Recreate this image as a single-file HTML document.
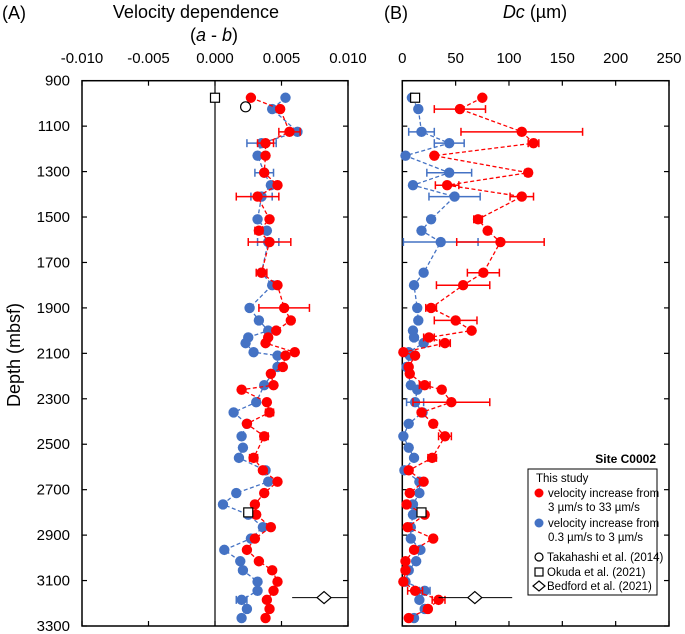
<!DOCTYPE html>
<html><head><meta charset="utf-8"><style>
html,body{margin:0;padding:0;background:#fff;}
svg{display:block;font-family:"Liberation Sans",Arial,sans-serif;}
</style></head><body>
<svg id="chart" width="685" height="634" viewBox="0 0 685 634" xmlns="http://www.w3.org/2000/svg">
<g id="root"></g>
<text x="2" y="19" font-size="18">(A)</text>
<text x="196" y="18" font-size="18" text-anchor="middle">Velocity dependence</text>
<text x="214" y="41" font-size="18" text-anchor="middle">(<tspan font-style="italic">a</tspan> - <tspan font-style="italic">b</tspan>)</text>
<text x="384" y="19" font-size="18">(B)</text>
<text x="535" y="18" font-size="18" text-anchor="middle"><tspan font-style="italic">Dc</tspan> (µm)</text>
<text transform="translate(20,355) rotate(-90)" font-size="18" text-anchor="middle">Depth (mbsf)</text>
<g>
<text x="656" y="463" font-size="12" font-weight="bold" text-anchor="end">Site C0002</text>
<rect x="528" y="469" width="129" height="126" fill="#fff" stroke="#000" stroke-width="1"/>
<text x="536" y="482" font-size="11.5">This study</text>
<circle cx="539" cy="493" r="4.5" fill="#ff0000"/>
<text x="548" y="497" font-size="11.5">velocity increase from</text>
<text x="548" y="511" font-size="11.5">3 µm/s to 33 µm/s</text>
<circle cx="539" cy="523" r="4.5" fill="#4472c4"/>
<text x="548" y="527" font-size="11.5">velocity increase from</text>
<text x="548" y="541" font-size="11.5">0.3 µm/s to 3 µm/s</text>
<circle cx="539" cy="557" r="4" fill="#fff" stroke="#000" stroke-width="1.2"/>
<text x="547" y="561" font-size="11.5">Takahashi et al. (2014)</text>
<rect x="535" y="568" width="8" height="8" fill="#fff" stroke="#000" stroke-width="1.2"/>
<text x="547" y="576" font-size="11.5">Okuda et al. (2021)</text>
<polygon points="539,581 545,586 539,591 533,586" fill="#fff" stroke="#000" stroke-width="1.2"/>
<text x="547" y="590" font-size="11.5">Bedford et al. (2021)</text>
</g>
</svg>
<script>
const depths=[975,1025,1125,1175,1230,1305,1360,1410,1510,1560,1610,1745,1800,1900,1955,2000,2030,2055,2095,2110,2160,2190,2240,2260,2315,2360,2410,2465,2515,2560,2615,2665,2715,2765,2810,2865,2915,2965,3015,3055,3105,3145,3185,3225,3265];
const abRed=[.0027,.0049,.0056,.0038,.0038,.0037,.0047,.0032,.0041,.0033,.0041,.0035,.0047,.0052,.0057,.0046,.0040,.0038,.0060,.0053,.0051,.0042,.0044,.0020,.0039,.0041,.0024,.0037,null,.0029,.0036,.0047,.0037,.0030,.0031,.0042,.0030,.0024,.0033,.0043,.0047,.0044,.0039,.0041,.0038];
const abBlue=[.0053,.0043,.0062,.0035,.0032,.0037,.0042,.0035,.0032,.0039,.0040,.0035,.0043,.0026,.0033,.0040,.0025,.0023,.0029,.0047,.0047,null,.0037,null,.0031,.0014,.0024,.0020,.0021,.0018,.0038,.0040,.0016,.0006,.0025,.0036,.0027,.0007,.0019,.0021,.0032,.0032,.0020,.0024,.0020];
const abRedErrDepth=[1125,1175,1410,1560,1610,1745,1900,2360,2465,2560];
const abRedErr=[.0008,.0006,.0016,.0003,.0016,.0004,.0019,.0003,.0003,.0003];
const abBlueErrDepth=[1175,1305,1410,1610,3185];
const abBlueErr=[.0011,.0007,.0008,.0008,.0004];
const dcRed=[75,54,112,123,30,118,42,112,71,80,92,76,57,27,50,65,25,40,1,12,6,7,21,37,46,18,29,40,null,28,6,20,7,4,21,5,29,11,3,3,1,12,34,24,6];
const dcBlue=[9,15,18,44,3,44,10,49,27,18,36,20,11,14,15,10,11,20,6,7,4,null,8,14,12,19,6,1,6,11,2,16,16,10,10,8,8,17,13,6,3,21,16,21,11];
const dcRedErrDepth=[1025,1125,1175,1305,1360,1410,1510,1610,1745,1800,1900,1955,2030,2055,2240,2315,2465,2560,3145,3185];
const dcRedErr=[24,57,5,3,11,11,4,41,15,25,5,20,5,5,5,36,6,4,7,6];
const dcBlueErrDepth=[1125,1175,1305,1410,1610,2315,3145];
const dcBlueErr=[12,14,21,24,35,8,5];
const depthTicks=[900,1100,1300,1500,1700,1900,2100,2300,2500,2700,2900,3100,3300];
const abTicks=[-0.010,-0.005,0.000,0.005,0.010];
const abTickLabels=["-0.010","-0.005","0.000","0.005","0.010"];
const dcTicks=[0,50,100,150,200,250];
const refAB=[{t:"sq",x:0.0,d:975},{t:"ci",x:0.0023,d:1015},{t:"sq",x:0.0025,d:2800},{t:"di",x:0.0082,d:3175,lo:0.0058,hi:0.0105}];
const refDC=[{t:"sq",x:12,d:975},{t:"sq",x:18,d:2800},{t:"di",x:68,d:3175,lo:34,hi:103}];

const NS="http://www.w3.org/2000/svg";
const root=document.getElementById('root');
function el(tag,attrs,parent){const e=document.createElementNS(NS,tag);for(const k in attrs)e.setAttribute(k,attrs[k]);(parent||root).appendChild(e);return e;}
const top0=80.7,bot0=626;
const y=d=>top0+(d-900)/2400*(bot0-top0);
const xA=v=>82+(v+0.010)/0.020*266;
const xB=v=>402.3+v/250*266.7;
const RED="#ff0000",BLUE="#4472c4";

function panel(name,x0,x1,ticks,labels,xf){
  const g=el('g',{});
  
  
  el('rect',{x:x0,y:top0,width:x1-x0,height:bot0-top0,fill:'none',stroke:'#000','stroke-width':1.5},g);
  ticks.forEach((t,i)=>{
    const px=xf(t);
    el('line',{x1:px,x2:px,y1:top0,y2:top0+5,stroke:'#000','stroke-width':1.2},g);
    el('line',{x1:px,x2:px,y1:bot0,y2:bot0-5,stroke:'#000','stroke-width':1.2},g);
    const tx=el('text',{x:px,y:63,'font-size':15,'text-anchor':'middle',fill:'#000'},g);
    tx.textContent=labels[i];
    
    
  });
  depthTicks.forEach(d=>{
    el('line',{x1:x0,x2:x0+5,y1:y(d),y2:y(d),stroke:'#000','stroke-width':1.2},g);
    el('line',{x1:x1,x2:x1-5,y1:y(d),y2:y(d),stroke:'#000','stroke-width':1.2},g);
  });
}
panel('panel-a',82,348,abTicks,abTickLabels,xA);
panel('panel-b',402.3,669,dcTicks,dcTicks.map(String),xB);
const zl=el('line',{x1:xA(0),x2:xA(0),y1:top0,y2:bot0,stroke:'#000','stroke-width':1.2});


depthTicks.forEach(d=>{
  const t=el('text',{x:70,y:y(d)+5,'font-size':15,'text-anchor':'end',fill:'#000'});
  t.textContent=d;
  
  
});

function errbars(ds,errs,vals,xf,color,name){
  ds.forEach((d,i)=>{
    const idx=depths.indexOf(d); if(idx<0||vals[idx]==null)return;
    const v=vals[idx],a=xf(v-errs[i]),b=xf(v+errs[i]),yy=y(d);
    const g=el('g',{stroke:color,'stroke-width':1.5});
    
    
    el('line',{x1:a,x2:b,y1:yy,y2:yy},g);
    el('line',{x1:a,x2:a,y1:yy-4,y2:yy+4},g);
    el('line',{x1:b,x2:b,y1:yy-4,y2:yy+4},g);
  });
}
function series(vals,xf,color,name){
  let d='';let first=true;
  depths.forEach((dp,i)=>{if(vals[i]==null)return;d+=(first?'M':'L')+xf(vals[i]).toFixed(1)+','+y(dp).toFixed(1);first=false;});
  const p=el('path',{d:d,fill:'none',stroke:color,'stroke-width':1.3,'stroke-dasharray':'4,2.5'});
  
  
  depths.forEach((dp,i)=>{if(vals[i]==null)return;
    const c=el('circle',{cx:xf(vals[i]),cy:y(dp),r:5.2,fill:color});
    
    
  });
}
function refs(list,xf,name,xmax){
  list.forEach(r=>{
    const px=xf(r.x),py=y(r.d);
    if(r.t==='di'){
      const l=el('line',{x1:xf(r.lo),x2:Math.min(xf(r.hi),xmax),y1:py,y2:py,stroke:'#000','stroke-width':1});
      
      
      const p=el('polygon',{points:`${px},${py-6} ${px+7},${py} ${px},${py+6} ${px-7},${py}`,fill:'#fff',stroke:'#000','stroke-width':1.2});
      
      
    }else if(r.t==='sq'){
      const s=el('rect',{x:px-4.5,y:py-4.5,width:9,height:9,fill:'#fff',stroke:'#000','stroke-width':1.2});
      
      
    }else{
      const c=el('circle',{cx:px,cy:py,r:5,fill:'#fff',stroke:'#000','stroke-width':1.2});
      
      
    }
  });
}
errbars(abBlueErrDepth,abBlueErr,abBlue,xA,BLUE,'ab-blue-errorbar');
series(abBlue,xA,BLUE,'ab-blue');
errbars(abRedErrDepth,abRedErr,abRed,xA,RED,'ab-red-errorbar');
series(abRed,xA,RED,'ab-red');
refs(refAB,xA,'ab',348);
errbars(dcBlueErrDepth,dcBlueErr,dcBlue,xB,BLUE,'dc-blue-errorbar');
series(dcBlue,xB,BLUE,'dc-blue');
errbars(dcRedErrDepth,dcRedErr,dcRed,xB,RED,'dc-red-errorbar');
series(dcRed,xB,RED,'dc-red');
refs(refDC,xB,'dc',669);
</script>
</body></html>
